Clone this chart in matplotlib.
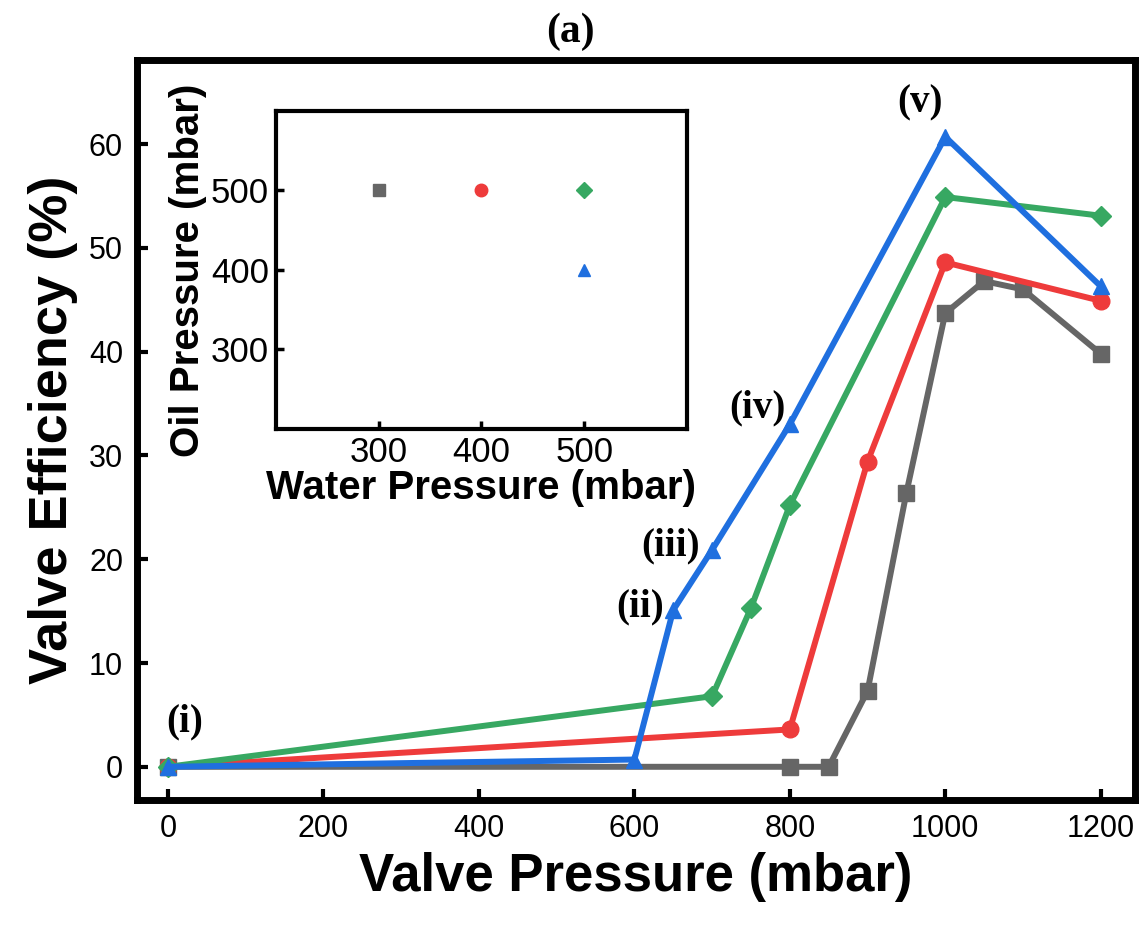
import matplotlib
matplotlib.use('Agg')
import matplotlib.pyplot as plt

# main series: valve pressure (mbar) vs valve efficiency (%)
gray_x = [0, 800, 850, 900, 950, 1000, 1050, 1100, 1200]
gray_y = [0, 0, 0, 7.3, 26.4, 43.7, 46.8, 46.0, 39.8]
red_x = [0, 800, 900, 1000, 1200]
red_y = [0, 3.6, 29.4, 48.6, 44.9]
green_x = [0, 700, 750, 800, 1000, 1200]
green_y = [0, 6.8, 15.3, 25.2, 54.9, 53.1]
blue_x = [0, 600, 650, 700, 800, 1000, 1200]
blue_y = [0, 0.7, 15.1, 20.9, 33.0, 60.7, 46.3]

# inset: water / oil pressure per series
water_p = [300, 400, 500, 500]
oil_p = [500, 500, 500, 400]

labels = ['(i)', '(ii)', '(iii)', '(iv)', '(v)']
label_x = [22, 607, 647, 758, 967]
label_y = [4.3, 15.4, 21.3, 34.6, 64.0]

c_gray = '#666666'
c_red = '#ee3b3b'
c_green = '#37a862'
c_blue = '#1f6fdf'

sans = ['Liberation Sans', 'DejaVu Sans']
serif = ['Liberation Serif', 'DejaVu Serif']

fig = plt.figure(figsize=(11.48, 9.31), dpi=100)
ax = fig.add_axes([0.1193, 0.1407, 0.8693, 0.7948])

lw = 4.3
ax.plot(gray_x, gray_y, '-s', color=c_gray, lw=lw, ms=11)
ax.plot(red_x, red_y, '-o', color=c_red, lw=lw, ms=12)
ax.plot(green_x, green_y, '-D', color=c_green, lw=lw, ms=10)
ax.plot(blue_x, blue_y, '-^', color=c_blue, lw=lw, ms=12)

ax.set_xlim(-40, 1244)
ax.set_ylim(-3.2, 68.1)
ax.set_xticks(range(0, 1201, 200))
ax.set_yticks(range(0, 61, 10))
for s in ax.spines.values():
    s.set_linewidth(5)
ax.tick_params(direction='in', width=3, length=8, labelsize=22, pad=10)
for t in ax.get_xticklabels() + ax.get_yticklabels():
    t.set_family(sans)
ax.set_xlabel('Valve Pressure (mbar)', family=sans, fontweight='bold', fontsize=38, labelpad=6)
ax.set_ylabel('Valve Efficiency (%)', family=sans, fontweight='bold', fontsize=39, labelpad=8)

for t, x, y in zip(labels, label_x, label_y):
    ax.text(x, y, t, family=serif, fontweight='bold', fontsize=28, ha='center', va='center')

fig.text(0.497, 0.966, '(a)', family=serif, fontweight='bold', fontsize=30, ha='center', va='center')

# inset
ins = fig.add_axes([0.2404, 0.5392, 0.358, 0.3416])
ins.plot(water_p[0], oil_p[0], 's', color=c_gray, ms=8)
ins.plot(water_p[1], oil_p[1], 'o', color=c_red, ms=9)
ins.plot(water_p[2], oil_p[2], 'D', color=c_green, ms=8)
ins.plot(water_p[3], oil_p[3], '^', color=c_blue, ms=9)
ins.set_xlim(200, 600)
ins.set_ylim(200, 600)
ins.set_xticks([300, 400, 500])
ins.set_yticks([300, 400, 500])
for s in ins.spines.values():
    s.set_linewidth(3)
ins.tick_params(direction='in', width=2.5, length=6, labelsize=25, pad=5)
for t in ins.get_xticklabels() + ins.get_yticklabels():
    t.set_family(sans)
ins.set_xlabel('Water Pressure (mbar)', family=sans, fontweight='bold', fontsize=29, labelpad=0)
ins.set_ylabel('Oil Pressure (mbar)', family=sans, fontweight='bold', fontsize=29, labelpad=3)

fig.savefig('out.png', dpi=100)
